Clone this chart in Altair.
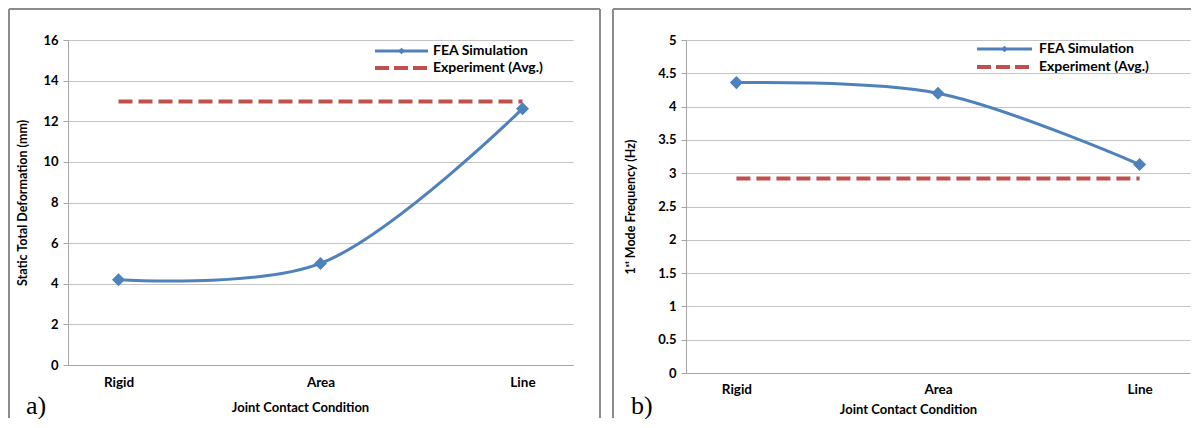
import altair as alt
import pandas as pd

# ---- data ----
categories = ["Rigid", "Area", "Line"]
deform_fea = [4.2, 5.0, 12.62]
deform_exp = [12.97, 12.97, 12.97]
freq_fea = [4.36, 4.2, 3.13]
freq_exp = [2.92, 2.92, 2.92]
deform_ticks = [0, 2, 4, 6, 8, 10, 12, 14, 16]
freq_ticks = [0, 0.5, 1, 1.5, 2, 2.5, 3, 3.5, 4, 4.5, 5]
legend_labels = ["FEA Simulation", "Experiment (Avg.)"]

BLUE = "#4f81bd"
RED = "#c0504d"
FONT = "Lato"
FRAME = "#8c8c8c"


def panel(fea, exp, ticks, ymax, ytitle, w, h, xt_x, xt_y, yt_x, lab_pad_y,
          leg_x0, leg_x1, leg_tx, leg_y1, leg_y2, tag, tag_x, fl, fr, fbottom):
    df = pd.DataFrame({"cat": categories, "fea": fea, "exp": exp})
    one = pd.DataFrame({"k": [0]})
    xenc = alt.X(
        "cat:N", sort=categories,
        scale=alt.Scale(type="point", padding=0.25),
        axis=alt.Axis(
            title="Joint Contact Condition", labelAngle=0, ticks=False,
            domainColor="#a6a6a6", domainWidth=1, grid=False,
            labelFont=FONT, labelFontWeight="bold", labelFontSize=13.5,
            labelColor="#000", labelPadding=lab_pad_y,
            titleFont=FONT, titleFontWeight="bold", titleFontSize=13,
            titleColor="#000", titleX=xt_x, titleY=xt_y,
            titleBaseline="middle", titleAlign="center"),
    )
    yaxis = alt.Axis(
        title=ytitle, values=ticks, format="~g", grid=True,
        gridColor="#c4c4c4", gridWidth=1, domainColor="#a6a6a6",
        tickColor="#a6a6a6", tickSize=5, labelFont=FONT,
        labelFontWeight="bold", labelFontSize=13, labelColor="#000",
        labelPadding=5, titleFont=FONT, titleFontWeight="bold",
        titleFontSize=12.5, titleColor="#000", titleX=yt_x, titleY=h / 2,
        titleAngle=270, titleBaseline="middle", titleAlign="center")
    yscale = alt.Scale(domain=[0, ymax], nice=False, zero=True)

    base = alt.Chart(df)
    exp_line = base.mark_line(color=RED, strokeWidth=4, strokeDash=[14, 6],
                              strokeCap="butt").encode(
        x=xenc, y=alt.Y("exp:Q", scale=yscale, axis=yaxis))
    fea_line = base.mark_line(color=BLUE, strokeWidth=3,
                              interpolate="catmull-rom").encode(
        x=xenc, y=alt.Y("fea:Q", scale=yscale, axis=yaxis))
    fea_pts = base.mark_point(shape="diamond", filled=True, size=170,
                              color=BLUE, opacity=1).encode(
        x=xenc, y=alt.Y("fea:Q", scale=yscale, axis=yaxis))

    lc = alt.Chart(one)
    leg = [
        lc.mark_rule(color=BLUE, strokeWidth=3).encode(
            x=alt.value(leg_x0), x2=alt.value(leg_x1), y=alt.value(leg_y1)),
        lc.mark_point(shape="diamond", filled=True, size=45, color=BLUE,
                      opacity=1).encode(
            x=alt.value((leg_x0 + leg_x1) / 2), y=alt.value(leg_y1)),
        lc.mark_rule(color=RED, strokeWidth=4, strokeDash=[14, 5]).encode(
            x=alt.value(leg_x0), x2=alt.value(leg_x1), y=alt.value(leg_y2)),
        lc.mark_text(text=legend_labels[0], font=FONT, fontSize=14,
                     fontWeight="bold", align="left", baseline="middle",
                     color="#000").encode(
            x=alt.value(leg_tx), y=alt.value(leg_y1)),
        lc.mark_text(text=legend_labels[1], font=FONT, fontSize=14,
                     fontWeight="bold", align="left", baseline="middle",
                     color="#000").encode(
            x=alt.value(leg_tx), y=alt.value(leg_y2)),
        lc.mark_text(text=tag, font="Liberation Serif", fontSize=26,
                     align="left", baseline="alphabetic", color="#000").encode(
            x=alt.value(tag_x), y=alt.value(374)),
    ]
    frame = [
        lc.mark_rule(color=FRAME, strokeWidth=2).encode(
            x=alt.value(fl), y=alt.value(-31), y2=alt.value(fbottom)),
        lc.mark_rule(color=FRAME, strokeWidth=2).encode(
            x=alt.value(fl), x2=alt.value(fr), y=alt.value(-31)),
    ]
    return alt.layer(*frame, exp_line, fea_line, fea_pts, *leg).properties(
        width=w, height=h)


pa = panel(deform_fea, deform_exp, deform_ticks, 16,
           "Static Total Deformation (mm)", 505, 325,
           232, 42, -46, 10,
           307, 360, 365, 11, 28, "a)", -42, -59, 532, 378)
pa = alt.layer(
    pa,
    alt.Chart(pd.DataFrame({"k": [0]})).mark_rule(color=FRAME, strokeWidth=2).encode(
        x=alt.value(532), y=alt.value(-31), y2=alt.value(378)),
)
pb = panel(freq_fea, freq_exp, freq_ticks, 5,
           "1ˢᵗ Mode Frequency (Hz)", 504, 333,
           222, 36, -56, 9,
           291, 346, 353, 9, 27, "b)", -55, -73, 505, 378)

chart = alt.hconcat(pa, pb, spacing=113, bounds="flush").properties(
    padding=0
).configure_view(stroke=None)

chart.save("out.html", embed_options={"renderer": "svg", "actions": False})
